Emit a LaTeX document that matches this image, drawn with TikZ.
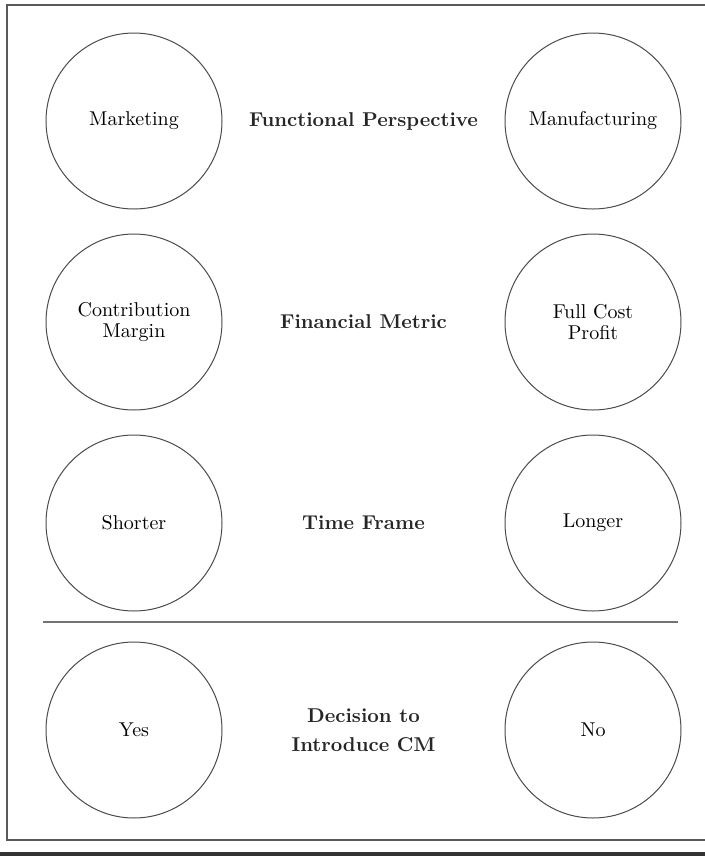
\documentclass[tikz,border=0pt]{standalone}
\usepackage{tikz}
\usetikzlibrary{positioning,calc}

\begin{document}
\begin{tikzpicture}[x=0.5pt, y=-0.5pt, node distance=12pt,
  every node/.style={font=\fontsize{10}{10.5}\selectfont},
  circ/.style={circle, draw=black!70, line width=0.5pt, minimum size=88pt, inner sep=1pt, align=center},
  head/.style={font=\fontsize{10}{14.5}\selectfont\bfseries, align=center, text=black!85},
  frame/.style={draw=black!65, line width=0.7pt}]
  \useasboundingbox (0,0) rectangle (705,859);
  % outer frame, open to the right, and the rule under it
  \draw[frame] (715,5) -- (7,5) -- (7,840) -- (715,840);
  \draw[black!80, line width=1.6pt] (-5,854) -- (715,854);

  % left and right columns
  \node[circ] (mkt) at (134,121) {Marketing};
  \node[circ, right=141pt of mkt] (mfg) {Manufacturing};
  \node[circ, below=of mkt] (cm) {Contribution\\Margin};
  \node[circ, below=of mfg] (fcp) {Full Cost\\Profit};
  \node[circ, below=of cm] (short) {Shorter};
  \node[circ, below=of fcp] (long) {Longer};
  \node[circ, below=15pt of short] (yes) {Yes};
  \node[circ, below=15pt of long] (no) {No};

  % dimension names in the middle
  \node[head] (persp) at ($(mkt)!0.5!(mfg)$) {Functional Perspective};
  \node[head] (metric) at ($(cm)!0.5!(fcp)$) {Financial Metric};
  \node[head] (frame) at ($(short)!0.5!(long)$) {Time Frame};
  \node[head] (decide) at ($(yes)!0.5!(no)$) {Decision to\\Introduce CM};

  % split between the dimensions and the decision
  \draw[black!55, line width=0.8pt] (43,622) -- (678,622);
\end{tikzpicture}
\end{document}
